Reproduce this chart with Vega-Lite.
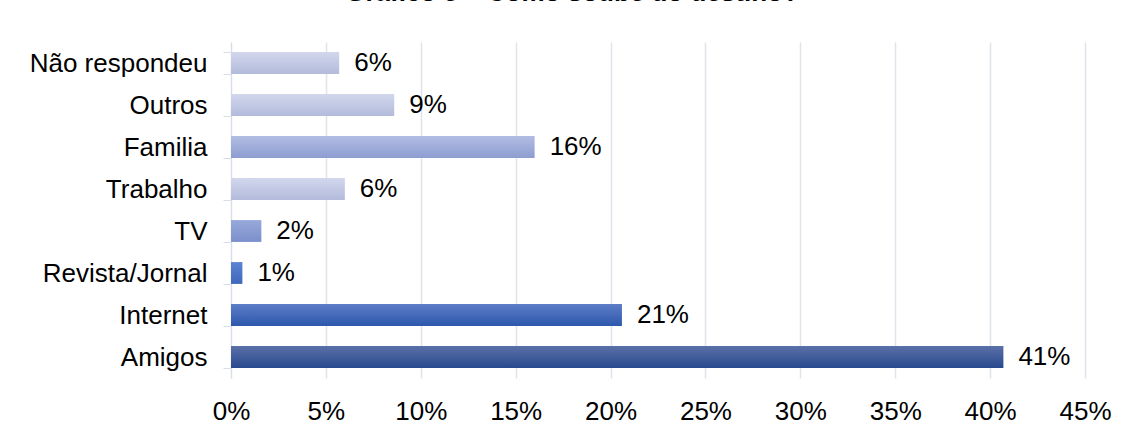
{
  "$schema": "https://vega.github.io/schema/vega-lite/v6.json",
  "autosize": {"type": "none"},
  "width": 854,
  "height": 336,
  "padding": {"left": 231, "top": 42, "right": 43, "bottom": 54},
  "background": "white",
  "title": {
    "text": "Gráfico 5 – Como soube do destino?",
    "font": "Liberation Sans",
    "fontSize": 26,
    "fontWeight": "bold",
    "color": "#000000",
    "anchor": "middle",
    "frame": "group",
    "dx": -86,
    "baseline": "alphabetic",
    "offset": 2
  },
  "data": {
    "values": [
      {"fonte": "Não respondeu", "valor": 0.057},
      {"fonte": "Outros", "valor": 0.086},
      {"fonte": "Familia", "valor": 0.16},
      {"fonte": "Trabalho", "valor": 0.06},
      {"fonte": "TV", "valor": 0.016},
      {"fonte": "Revista/Jornal", "valor": 0.006},
      {"fonte": "Internet", "valor": 0.206},
      {"fonte": "Amigos", "valor": 0.407}
    ]
  },
  "encoding": {
    "y": {
      "field": "fonte",
      "type": "nominal",
      "sort": ["Não respondeu", "Outros", "Familia", "Trabalho", "TV", "Revista/Jornal", "Internet", "Amigos"],
      "scale": {"paddingInner": 0.48, "paddingOuter": 0.24},
      "axis": {
        "title": null,
        "domain": true,
        "domainColor": "#d9dde8",
        "domainWidth": 1,
        "ticks": true,
        "tickBand": "extent",
        "tickSize": 8,
        "tickColor": "#d9dde8",
        "labelPadding": 16,
        "labelFont": "Liberation Sans",
        "labelFontSize": 26,
        "labelColor": "#000000",
        "grid": false
      }
    },
    "x": {
      "field": "valor",
      "type": "quantitative",
      "scale": {"domain": [0, 0.45], "nice": false},
      "axis": {
        "title": null,
        "values": [0, 0.05, 0.1, 0.15, 0.2, 0.25, 0.3, 0.35, 0.4, 0.45],
        "format": ".0%",
        "domain": false,
        "ticks": false,
        "grid": true,
        "gridColor": "#dfe3ea",
        "gridWidth": 1.5,
        "labelFlush": false,
        "labelPadding": 20,
        "labelFont": "Liberation Sans",
        "labelFontSize": 26,
        "labelColor": "#000000"
      }
    }
  },
  "layer": [
    {
      "transform": [{"filter": {"field": "fonte", "oneOf": ["Não respondeu", "Outros", "Trabalho"]}}],
      "mark": {"type": "bar", "color": {"gradient": "linear", "x1": 0, "y1": 0, "x2": 0, "y2": 1, "stops": [{"offset": 0, "color": "#d2d7ec"}, {"offset": 1, "color": "#b3bbdc"}]}}
    },
    {
      "transform": [{"filter": {"field": "fonte", "oneOf": ["Familia"]}}],
      "mark": {"type": "bar", "color": {"gradient": "linear", "x1": 0, "y1": 0, "x2": 0, "y2": 1, "stops": [{"offset": 0, "color": "#b2bde3"}, {"offset": 1, "color": "#8d9dd0"}]}}
    },
    {
      "transform": [{"filter": {"field": "fonte", "oneOf": ["TV"]}}],
      "mark": {"type": "bar", "color": {"gradient": "linear", "x1": 0, "y1": 0, "x2": 0, "y2": 1, "stops": [{"offset": 0, "color": "#98a9da"}, {"offset": 1, "color": "#7b8fcb"}]}}
    },
    {
      "transform": [{"filter": {"field": "fonte", "oneOf": ["Revista/Jornal"]}}],
      "mark": {"type": "bar", "color": {"gradient": "linear", "x1": 0, "y1": 0, "x2": 0, "y2": 1, "stops": [{"offset": 0, "color": "#5c84d3"}, {"offset": 1, "color": "#3f67bb"}]}}
    },
    {
      "transform": [{"filter": {"field": "fonte", "oneOf": ["Internet"]}}],
      "mark": {"type": "bar", "color": {"gradient": "linear", "x1": 0, "y1": 0, "x2": 0, "y2": 1, "stops": [{"offset": 0, "color": "#5d7dc6"}, {"offset": 1, "color": "#2d58ad"}]}}
    },
    {
      "transform": [{"filter": {"field": "fonte", "oneOf": ["Amigos"]}}],
      "mark": {"type": "bar", "color": {"gradient": "linear", "x1": 0, "y1": 0, "x2": 0, "y2": 1, "stops": [{"offset": 0, "color": "#5b70a7"}, {"offset": 1, "color": "#28498e"}]}}
    },
    {
      "mark": {"type": "text", "align": "left", "baseline": "middle", "dx": 15, "font": "Liberation Sans", "fontSize": 26, "color": "#000000"},
      "encoding": {
        "text": {"field": "valor", "type": "quantitative", "format": ".0%"}
      }
    }
  ],
  "config": {"view": {"stroke": null}}
}
